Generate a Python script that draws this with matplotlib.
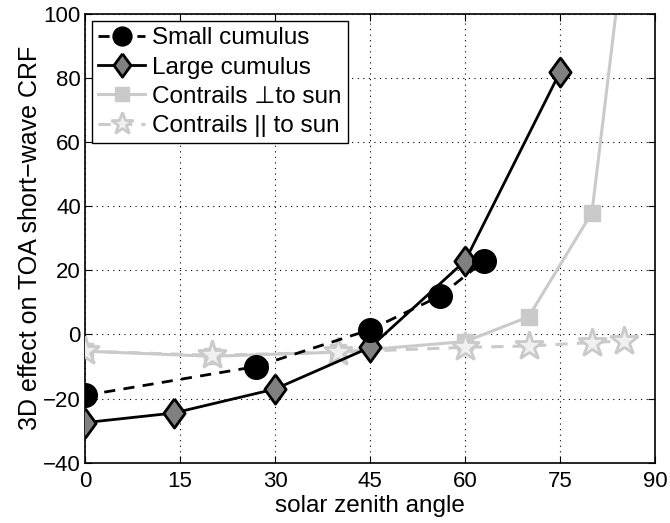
import numpy as np
import matplotlib
matplotlib.use("Agg")
import matplotlib.pyplot as plt

plt.rcParams["font.family"] = ["Liberation Sans", "DejaVu Sans"]

# data
small_x = [0, 27, 45, 56, 63]
small_y = [-19, -10, 1.5, 12, 23]

large_x = [0, 14, 30, 45, 60, 75]
large_y = [-27.5, -24.5, -17, -4, 23, 82]

perp_x = [0, 20, 40, 60, 70, 80, 85]
perp_y = [-5.2, -6.8, -5.5, -2.2, 5.5, 38, 120]

par_x = [0, 20, 40, 60, 70, 80, 85]
par_y = [-5.2, -6.5, -5.5, -4, -3.6, -2.5, -2]

x_ticks = [0, 15, 30, 45, 60, 75, 90]
y_ticks = [-40, -20, 0, 20, 40, 60, 80, 100]

diamond = [(0, 1), (0.73, 0), (0, -1), (-0.73, 0), (0, 1)]

fig = plt.figure(figsize=(6.7, 5.23), dpi=100)
ax = fig.add_axes([0.127, 0.1153, 0.851, 0.858])

ax.plot(perp_x, perp_y, "-", color="#cacaca", lw=2.2, marker="s", ms=12,
        mfc="#cacaca", mec="#cacaca", label="Contrails \u22a5to sun", zorder=2)
ax.plot(par_x, par_y, "--", color="#cacaca", lw=2.2, dashes=(4, 3), marker="*",
        ms=21, mfc="#f0f0f0", mec="#cacaca", mew=2, label="Contrails || to sun", zorder=3)
ax.plot(large_x, large_y, "-", color="black", lw=2, marker=diamond, ms=21,
        mfc="#808080", mec="black", mew=2, label="Large cumulus", zorder=4)
ax.plot(small_x, small_y, "--", color="black", lw=2, dashes=(4, 3), marker="o",
        ms=17, mfc="black", mec="black", label="Small cumulus", zorder=5)

ax.set_xlim(0, 90)
ax.set_ylim(-40, 100)
ax.set_xticks(x_ticks)
ax.set_yticks(y_ticks)
ax.grid(True, color="black", linestyle=(0, (1, 4)), linewidth=0.8)
ax.tick_params(direction="in", top=True, right=True, labelsize=16, length=5)
ax.tick_params(axis="x", pad=6)
ax.tick_params(axis="y", pad=3)
for s in ax.spines.values():
    s.set_linewidth(1.2)

ax.set_xlabel("solar zenith angle", fontsize=17.5, labelpad=2)
ax.set_ylabel("3D effect on TOA short\u2212wave CRF", fontsize=18, labelpad=1)

h, l = ax.get_legend_handles_labels()
order = [3, 2, 0, 1]
leg = ax.legend([h[i] for i in order], [l[i] for i in order], loc="upper left",
                fontsize=17.5, handlelength=1.9, handletextpad=0.3, borderpad=0.25,
                labelspacing=0.3, fancybox=False, framealpha=1, markerscale=0.8,
                edgecolor="black", borderaxespad=0.3)
leg.get_frame().set_linewidth(1.0)

fig.savefig("out.png", dpi=100)
